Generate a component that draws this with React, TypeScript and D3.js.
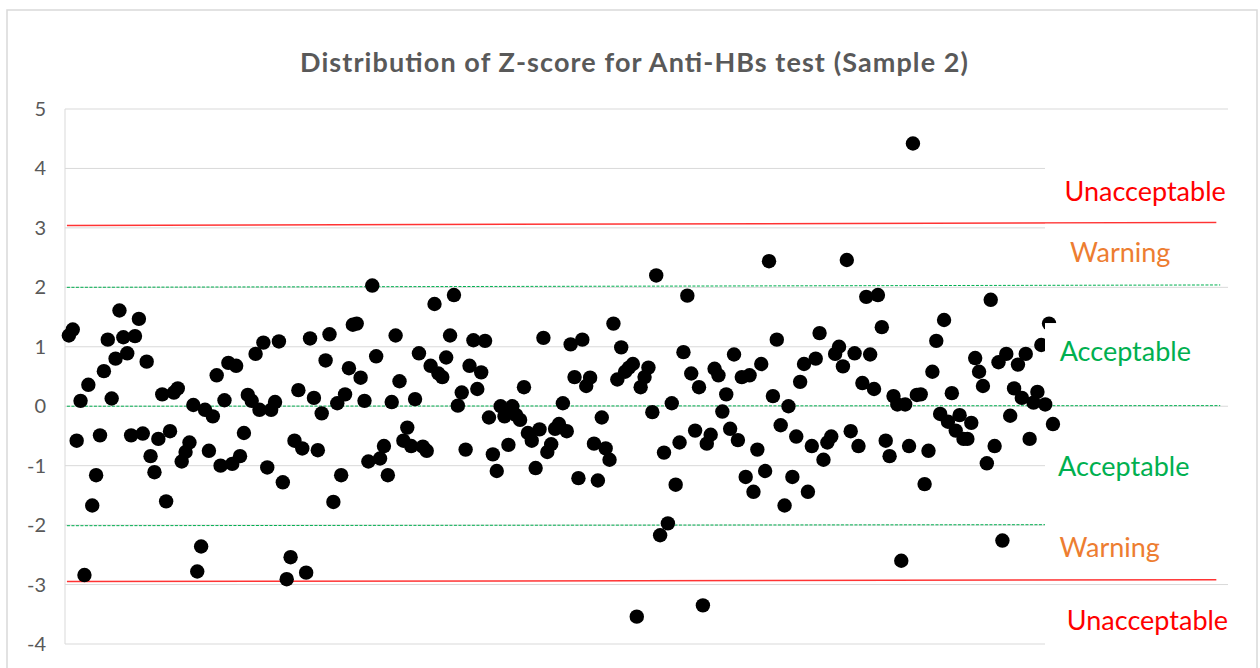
import React from 'react'
import * as d3 from 'd3'

const width = 1260
const height = 668
const margin = { left: 65, right: 28, top: 109, bottom: 24 }

// z-score per sample, read left to right
const zScores = [
  1.19, 1.29, -0.58, 0.09, -2.84, 0.36, -1.67, -1.16, -0.49, 0.59,
  1.12, 0.13, 0.8, 1.61, 1.16, 0.89, -0.49, 1.18, 1.47, -0.46,
  0.75, -0.84, -1.11, -0.55, 0.2, -1.6, -0.42, 0.23, 0.3, -0.93,
  -0.77, -0.61, 0.02, -2.78, -2.36, -0.06, -0.75, -0.17, 0.52, -1.0,
  0.1, 0.73, -0.97, 0.68, -0.84, -0.45, 0.19, 0.09, 0.88, -0.06,
  1.07, -1.03, -0.06, 0.07, 1.09, -1.28, -2.91, -2.54, -0.58, 0.27,
  -0.71, -2.8, 1.14, 0.14, -0.74, -0.12, 0.77, 1.21, -1.61, 0.05,
  -1.16, 0.2, 0.64, 1.37, 1.39, 0.48, 0.09, -0.93, 2.03, 0.84,
  -0.88, -0.67, -1.16, 0.07, 1.19, 0.42, -0.58, -0.36, -0.67, 0.12,
  0.89, -0.68, -0.75, 0.68, 1.72, 0.55, 0.49, 0.82, 1.19, 1.87,
  0.01, 0.23, -0.73, 0.68, 1.11, 0.29, 0.57, 1.1, -0.19, -0.81,
  -1.09, 0.0, -0.17, -0.65, 0.0, -0.15, -0.23, 0.32, -0.45, -0.58,
  -1.04, -0.39, 1.15, -0.77, -0.64, -0.38, -0.3, 0.05, -0.42, 1.04,
  0.49, -1.21, 1.12, 0.34, 0.48, -0.63, -1.25, -0.19, -0.71, -0.9,
  1.39, 0.45, 0.99, 0.58, 0.65, 0.71, -3.54, 0.32, 0.49, 0.65,
  -0.1, 2.2, -2.17, -0.78, -1.97, 0.05, -1.32, -0.61, 0.91, 1.86,
  0.55, -0.41, 0.32, -3.35, -0.63, -0.48, 0.63, 0.52, -0.09, 0.2,
  -0.38, 0.87, -0.57, 0.49, -1.19, 0.52, -1.44, -0.73, 0.71, -1.09,
  2.44, 0.17, 1.12, -0.32, -1.67, 0.0, -1.19, -0.51, 0.41, 0.71,
  -1.44, -0.67, 0.8, 1.23, -0.9, -0.61, -0.51, 0.88, 1.0, 0.67,
  2.46, -0.42, 0.89, -0.67, 0.39, 1.84, 0.87, 0.29, 1.87, 1.33,
  -0.58, -0.84, 0.17, 0.03, -2.6, 0.03, -0.67, 4.42, 0.19, 0.2,
  -1.31, -0.75, 0.58, 1.1, -0.13, 1.45, -0.26, 0.22, -0.41, -0.15,
  -0.55, -0.55, -0.28, 0.81, 0.58, 0.34, -0.96, 1.79, -0.67, 0.74,
  -2.26, 0.88, -0.16, 0.3, 0.7, 0.14, 0.88, -0.55, 0.06, 0.24,
  1.03, 0.03, 1.39, -0.3,
]

const yTicks = [-4, -3, -2, -1, 0, 1, 2, 3, 4, 5]

// limit lines: [value at first sample, value at last sample]
const redLines = [
  [3.04, 3.09],
  [-2.95, -2.92],
]
const greenLines = [
  [2.0, 2.04],
  [0.0, 0.01],
  [-2.01, -1.99],
]
const lineStart = 0.5
const redEnd = 296
const greenEnd = 297

const zoneNames = ['Unacceptable', 'Warning', 'Acceptable', 'Acceptable', 'Warning', 'Unacceptable']
const zoneKinds = ['fail', 'warn', 'ok', 'ok', 'warn', 'fail']
const zoneLabelY = [3.45, 2.43, 0.76, -1.17, -2.53, -3.76]
const zoneLabelX = [277.7, 271.3, 272.6, 272.2, 268.6, 278.3]

const colorMap = {
  fail: '#ff0000',
  warn: '#ed7d31',
  ok: '#00b050',
}

const font = 'Lato, "Open Sans", sans-serif'

function App() {
  const xScale = d3
    .scaleLinear()
    .domain([0, 299])
    .range([margin.left, width - margin.right - 4])

  const yScale = d3
    .scaleLinear()
    .domain([-4, 5])
    .range([height - margin.bottom, margin.top])

  const x0 = xScale.range()[0]
  const x1 = xScale.range()[1]

  const grid = yTicks.map((t) => (
    <line key={'g' + t} x1={x0} x2={x1} y1={yScale(t)} y2={yScale(t)} stroke="#d9d9d9" strokeWidth={1} />
  ))

  const tickLabels = yTicks.map((t) => (
    <text
      key={'t' + t}
      x={46}
      y={yScale(t)}
      dy="0.35em"
      textAnchor="end"
      fontFamily={font}
      fontSize={20}
      fill="#595959"
    >
      {t}
    </text>
  ))

  const reds = redLines.map((d, i) => (
    <line
      key={'r' + i}
      x1={xScale(lineStart)}
      x2={xScale(redEnd)}
      y1={yScale(d[0])}
      y2={yScale(d[1])}
      stroke="#ff0000"
      strokeOpacity={0.8}
      strokeWidth={1.5}
    />
  ))

  const greens = greenLines.map((d, i) => (
    <line
      key={'gl' + i}
      x1={xScale(lineStart)}
      x2={xScale(greenEnd)}
      y1={yScale(d[0])}
      y2={yScale(d[1])}
      stroke="#00b050"
      strokeWidth={1}
      strokeDasharray="3,1.5"
    />
  ))

  const dots = zScores.map((z, i) => (
    <circle key={'d' + i} cx={xScale(i + 1)} cy={yScale(z)} r={7.2} fill="#000" />
  ))

  const labels = zoneNames.map((name, i) => {
    const by = yScale(zoneLabelY[i])
    return (
      <g key={'l' + i}>
        <rect x={1045} y={by - 38} width={183} height={57} fill="#fff" />
        <text
          x={xScale(zoneLabelX[i])}
          y={by}
          textAnchor="middle"
          fontFamily={font}
          fontSize={27}
          fill={colorMap[zoneKinds[i]]}
        >
          {name}
        </text>
      </g>
    )
  })

  return (
    <svg
      width={width}
      height={height}
      style={{ position: 'absolute', left: 0, top: 0, background: '#fff' }}
    >
      <rect x={7} y={10} width={1250} height={670} fill="#fff" stroke="#d9d9d9" strokeWidth={1.5} />
      <text
        x={634}
        y={72}
        textAnchor="middle"
        fontFamily={font}
        fontWeight="bold"
        fontSize={27}
        textLength={668}
        lengthAdjust="spacing"
        fill="#595959"
      >
        Distribution of Z-score for Anti-HBs test (Sample 2)
      </text>
      {grid}
      <line x1={x0} x2={x0} y1={yScale(5)} y2={yScale(-4)} stroke="#d9d9d9" strokeWidth={1} />
      {tickLabels}
      {reds}
      {greens}
      {dots}
      {labels}
    </svg>
  )
}

export default App
